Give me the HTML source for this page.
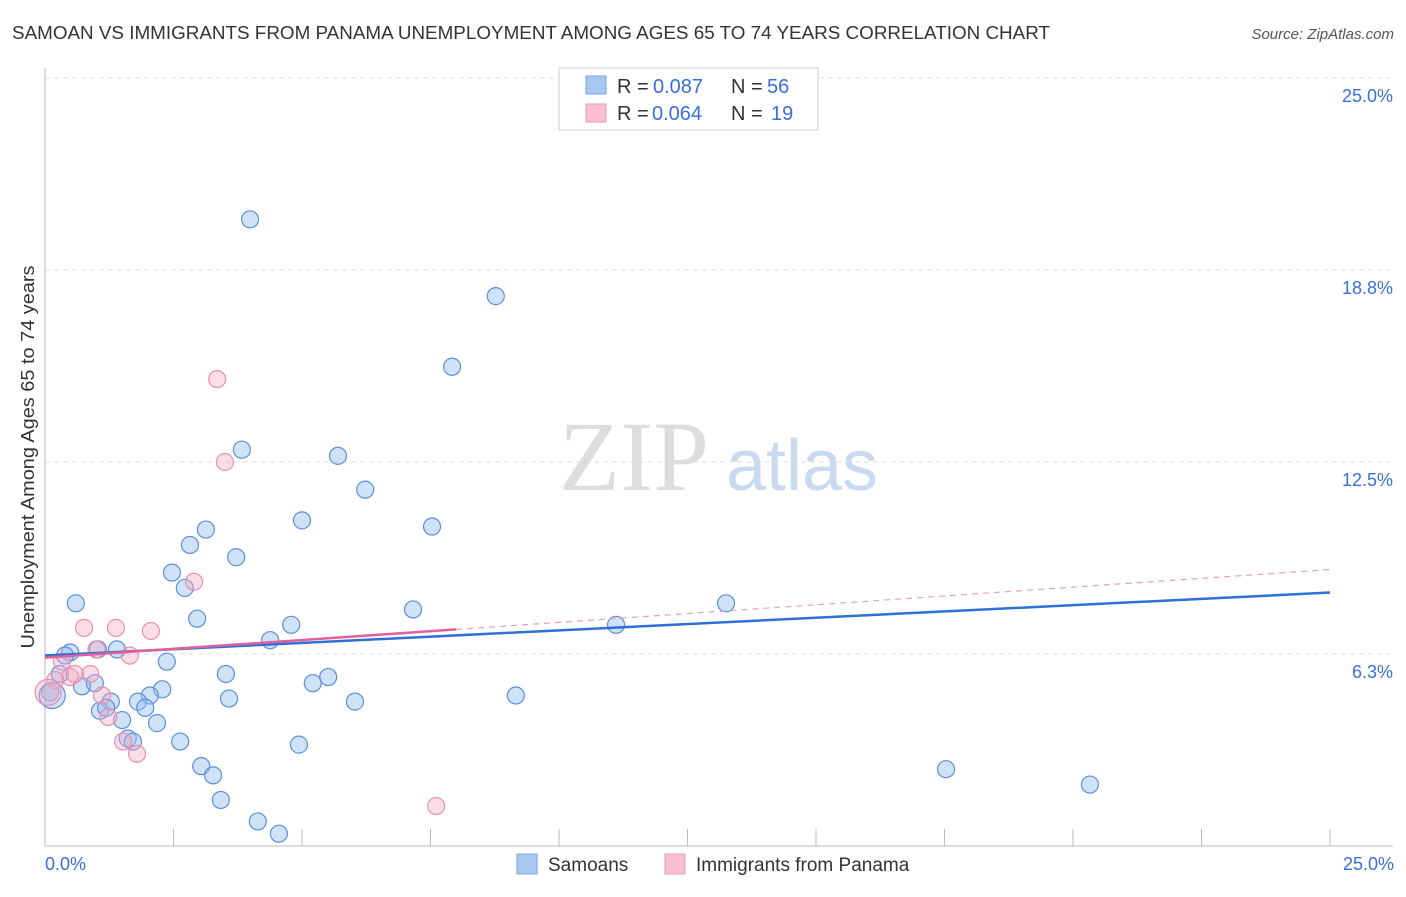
<!DOCTYPE html>
<html><head><meta charset="utf-8"><style>
body{margin:0;background:#fff;font-family:"Liberation Sans",sans-serif;}
</style></head><body>
<svg id="c" width="1406" height="892" xmlns="http://www.w3.org/2000/svg" font-family="Liberation Sans, sans-serif">
<text x="12" y="39" font-size="18" fill="#333" textLength="1038" lengthAdjust="spacingAndGlyphs">SAMOAN VS IMMIGRANTS FROM PANAMA UNEMPLOYMENT AMONG AGES 65 TO 74 YEARS CORRELATION CHART</text>
<text x="1394" y="39" font-size="15" fill="#555" font-style="italic" text-anchor="end">Source: ZipAtlas.com</text>
<text x="634" y="490" font-size="100" fill="#ddd" style="font-family:'Liberation Serif',serif" text-anchor="middle">ZIP</text>
<text x="802" y="490" font-size="72" fill="#c9d9f0" text-anchor="middle">atlas</text>
<text transform="translate(34,457) rotate(-90)" font-size="18" fill="#333" text-anchor="middle" textLength="383" lengthAdjust="spacingAndGlyphs">Unemployment Among Ages 65 to 74 years</text>
<g id="grid"></g><g id="pts"></g><g id="lines"></g>
<g>
<rect x="559" y="68" width="259" height="62" fill="#fff" stroke="#ccc"/>
<rect x="586" y="76" width="20" height="18" fill="#a8c8f0" stroke="#7aa6e0"/>
<rect x="586" y="104" width="20" height="18" fill="#f8c0d0" stroke="#e898b0"/>
<text x="617" y="93" font-size="20" fill="#333">R =</text><text x="653" y="93" font-size="20" fill="#3a6fd8">0.087</text>
<text x="731" y="93" font-size="20" fill="#333">N =</text><text x="767" y="93" font-size="20" fill="#3a6fd8">56</text>
<text x="617" y="120" font-size="20" fill="#333">R =</text><text x="652" y="120" font-size="20" fill="#3a6fd8">0.064</text>
<text x="731" y="120" font-size="20" fill="#333">N =</text><text x="771" y="120" font-size="20" fill="#3a6fd8">19</text>
</g>
<g>
<rect x="517" y="854" width="20" height="20" fill="#a8c8f0" stroke="#7aa6e0"/>
<text x="548" y="871" font-size="19" fill="#333">Samoans</text>
<rect x="665" y="854" width="20" height="20" fill="#f8c0d0" stroke="#e898b0"/>
<text x="696" y="871" font-size="19" fill="#333">Immigrants from Panama</text>
</g>
<text x="45" y="870" font-size="18" fill="#3a6fd8">0.0%</text>
<text x="1394" y="870" font-size="18" fill="#3a6fd8" text-anchor="end">25.0%</text>
</svg>
<script>
const yTicks=[6.25,12.5,18.75,25];
const yTickLabels=["6.3%","12.5%","18.8%","25.0%"];
const blueX=[3.99,8.77,7.92,3.83,5.70,6.23,5.00,7.53,3.13,2.82,3.72,2.47,2.72,0.60,7.16,13.25,2.96,4.79,11.11,4.38,1.40,0.49,0.39,1.03,2.37,0.29,3.52,5.51,5.21,0.72,0.97,0.10,2.28,2.04,1.81,1.28,9.16,3.58,6.03,1.95,1.07,1.19,1.50,2.18,1.61,1.71,2.63,4.94,3.04,3.27,17.53,20.33,3.42,4.14,4.55,0.14];
const blueY=[20.4,17.9,15.6,12.9,12.7,11.6,10.6,10.4,10.3,9.8,9.4,8.9,8.4,7.9,7.7,7.9,7.4,7.2,7.2,6.7,6.4,6.3,6.2,6.4,6.0,5.6,5.6,5.5,5.3,5.2,5.3,5.0,5.1,4.9,4.7,4.7,4.9,4.8,4.7,4.5,4.4,4.5,4.1,4.0,3.5,3.4,3.4,3.3,2.6,2.3,2.5,2.0,1.5,0.8,0.4,4.9];
const pinkX=[3.35,3.5,2.9,0.76,1.38,2.06,1.0,1.65,0.33,0.49,0.88,0.2,0.06,1.11,1.23,1.52,1.79,7.61,0.58];
const pinkY=[15.2,12.5,8.6,7.1,7.1,7.0,6.4,6.2,6.0,5.5,5.6,5.4,5.0,4.9,4.2,3.4,3.0,1.3,5.6];
const X=v=>45+v/25*1285, Y=v=>846-v/25*768;
const NS="http://www.w3.org/2000/svg";
function mk(t,a,p){const e=document.createElementNS(NS,t);for(const k in a)e.setAttribute(k,a[k]);p.appendChild(e);return e;}
const g=document.getElementById('grid');
mk('line',{x1:45,y1:68,x2:45,y2:846,stroke:'#bbb'},g);
mk('line',{x1:45,y1:846,x2:1393,y2:846,stroke:'#bbb'},g);
for(let i=1;i<=10;i++){const x=X(i*2.5);mk('line',{x1:x,y1:829,x2:x,y2:846,stroke:'#bbb'},g);}
yTicks.forEach((t,i)=>{
const l=mk('line',{x1:45,y1:Y(t),x2:1393,y2:Y(t),stroke:'#ddd','stroke-dasharray':'5,4'},g);


const tx=mk('text',{x:1393,y:Y(t)+24,'font-size':18,fill:'#3a6fd8','text-anchor':'end'},g);
tx.textContent=yTickLabels[i];


});
const p=document.getElementById('pts');
blueX.forEach((v,i)=>{const c=mk('circle',{cx:X(v),cy:Y(blueY[i]),r:i==55?13:8.5,fill:'rgba(150,190,240,0.45)',stroke:'#5b8fdc','stroke-width':1.2},p);

});
pinkX.forEach((v,i)=>{const c=mk('circle',{cx:X(v),cy:Y(pinkY[i]),r:i==12?13:8.5,fill:'rgba(245,170,195,0.4)',stroke:'#e890ad','stroke-width':1.2},p);

});
const L=document.getElementById('lines');
const b=mk('line',{x1:X(0),y1:Y(6.2),x2:X(25),y2:Y(8.25),stroke:'#2f6fd8','stroke-width':2.5},L);


const d=mk('line',{x1:X(8),y1:Y(7.05),x2:X(25),y2:Y(9.0),stroke:'#e8a0b8','stroke-width':1.2,'stroke-dasharray':'6,5'},L);


const pl=mk('line',{x1:X(0),y1:Y(6.13),x2:X(8),y2:Y(7.05),stroke:'#e0609a','stroke-width':2.5},L);


</script>
</body></html>
